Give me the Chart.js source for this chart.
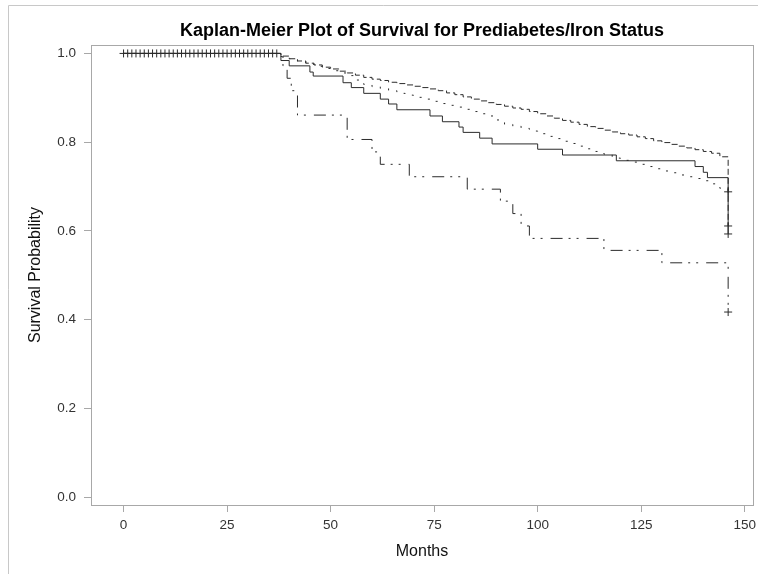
<!DOCTYPE html>
<html>
<head>
<meta charset="utf-8">
<script src="https://cdn.jsdelivr.net/npm/chart.js@4/dist/chart.umd.min.js"></script>
<style>
  html, body { margin: 0; padding: 0; background: #fff; }
</style>
</head>
<body>
<canvas id="km" width="758" height="574"></canvas>
<script>
const xTicks = [0, 25, 50, 75, 100, 125, 150];
const yTicks = [0, 0.2, 0.4, 0.6, 0.8, 1.0];

// group 1 (solid)
const solidTimes = [0, 38, 40, 45, 45.8, 53, 55, 58, 62, 64, 66, 74, 77, 81, 82, 86, 89, 100, 106, 119, 138, 140, 141, 146];
const solidSurv = [1, 0.984, 0.972, 0.958, 0.949, 0.934, 0.923, 0.910, 0.897, 0.886, 0.873, 0.859, 0.846, 0.834, 0.822, 0.809, 0.796, 0.784, 0.771, 0.758, 0.745, 0.732, 0.720, 0.593];

// group 2 (dashed)
const dashTimes = [0, 38, 40, 42, 44, 46, 48, 50, 52, 54, 56, 58, 60, 62, 64, 66, 68, 70, 72, 74, 76, 78, 80, 82, 84, 86, 88, 90,
  92, 94, 96, 98, 100, 102, 104, 106, 108, 110, 112, 114, 116, 118, 120, 122, 124, 126, 128, 130, 132, 134, 136, 138, 140, 142, 144, 146];
const dashSurv = [1, 0.994, 0.988, 0.983, 0.978, 0.974, 0.969, 0.965, 0.960, 0.956, 0.951, 0.946, 0.942, 0.939, 0.935, 0.932, 0.929, 0.926,
  0.923, 0.920, 0.916, 0.911, 0.907, 0.902, 0.897, 0.893, 0.889, 0.885, 0.881, 0.877, 0.874, 0.869, 0.864, 0.859, 0.854, 0.849, 0.845,
  0.840, 0.835, 0.831, 0.827, 0.823, 0.819, 0.816, 0.812, 0.808, 0.803, 0.799, 0.795, 0.791, 0.787, 0.783, 0.779, 0.775, 0.767, 0.611];

// group 3 (dotted)
const dotTimes = [0, 38, 40, 42, 44, 46, 48, 50, 52, 54, 56, 58, 60, 62, 64, 66, 68, 70, 72, 74, 76, 78, 80, 82, 84, 86, 88, 90,
  92, 94, 96, 98, 100, 102, 104, 106, 108, 110, 112, 114, 116, 118, 120, 122, 124, 126, 128, 130, 132, 134, 136, 138, 140, 142, 144, 146];
const dotSurv = [1, 0.993, 0.988, 0.982, 0.976, 0.971, 0.966, 0.961, 0.956, 0.950, 0.940, 0.930, 0.925, 0.921, 0.916, 0.910, 0.906, 0.901,
  0.897, 0.892, 0.887, 0.883, 0.879, 0.874, 0.869, 0.864, 0.859, 0.850, 0.840, 0.836, 0.831, 0.825, 0.819, 0.813, 0.808, 0.802, 0.797,
  0.791, 0.785, 0.779, 0.773, 0.764, 0.759, 0.755, 0.750, 0.745, 0.740, 0.735, 0.731, 0.726, 0.722, 0.718, 0.713, 0.706, 0.696, 0.688];

// group 4 (dash-dot)
const ddTimes = [0, 38.5, 39.5, 40.5, 42, 54, 60, 62, 69, 83, 91, 94, 96, 98, 116, 130, 146];
const ddSurv = [1, 0.972, 0.944, 0.916, 0.861, 0.806, 0.778, 0.750, 0.722, 0.694, 0.667, 0.639, 0.611, 0.583, 0.556, 0.528, 0.417];

// censored observations
const censorTopTimes = [0, 1, 2, 3, 4, 5, 6, 7, 8, 9, 10, 11, 12, 13, 14, 15, 16, 17, 18, 19, 20, 21, 22, 23, 24, 25, 26, 27, 28, 29,
  30, 31, 32, 33, 34, 35, 36, 37];
const censorEndTimes = [146, 146, 146, 146];
const censorEndSurv = [0.688, 0.611, 0.593, 0.417];

const ink = '#2b2b2b';
const frame = '#a8a8a8';
const family = "'Liberation Sans', Arial, sans-serif";

function pts(ts, vs) {
    return ts.map((t, i) => ({ x: t, y: vs[i] }));
}

function curve(ts, vs, dash) {
    return {
        data: pts(ts, vs),
        stepped: true,
        borderColor: ink,
        borderWidth: 1,
        borderDash: dash,
        pointRadius: 0,
        fill: false,
    };
}

const framePlugin = {
    id: 'framePlugin',
    afterDraw(chart) {
        const { ctx, chartArea: a } = chart;
        ctx.save();
        ctx.strokeStyle = frame;
        ctx.lineWidth = 1;
        ctx.strokeRect(Math.round(a.left) + 0.5, Math.round(a.top) + 0.5, Math.round(a.right - a.left), Math.round(a.bottom - a.top));
        ctx.strokeStyle = '#c8c8c8';
        ctx.beginPath();
        ctx.moveTo(8.5, 574);
        ctx.lineTo(8.5, 5.5);
        ctx.lineTo(758, 5.5);
        ctx.stroke();
        ctx.restore();
    },
};

new Chart(document.getElementById('km'), {
    type: 'line',
    data: {
        datasets: [
            curve(solidTimes, solidSurv, []),
            curve(dashTimes, dashSurv, [6, 3]),
            curve(dotTimes, dotSurv, [2, 8]),
            curve(ddTimes, ddSurv, [12, 6, 2, 6, 2, 8]),
            {
                data: censorTopTimes.map(t => ({ x: t, y: 1 })),
                showLine: false,
                pointStyle: 'cross',
                pointRadius: 4,
                borderColor: ink,
                borderWidth: 1,
            },
            {
                data: pts(censorEndTimes, censorEndSurv),
                showLine: false,
                pointStyle: 'cross',
                pointRadius: 4,
                borderColor: ink,
                borderWidth: 1,
            },
        ],
    },
    options: {
        responsive: false,
        animation: false,
        events: [],
        layout: { padding: { left: 0, right: 5, top: 0, bottom: 0 } },
        plugins: {
            legend: { display: false },
            tooltip: { enabled: false },
            title: {
                display: true,
                text: 'Kaplan-Meier Plot of Survival for Prediabetes/Iron Status',
                fullSize: false,
                color: '#000',
                font: { family, size: 18, weight: 'bold' },
                padding: { top: 20, bottom: 3.4 },
            },
        },
        scales: {
            x: {
                type: 'linear',
                min: -7.86,
                max: 152,
                afterBuildTicks: s => { s.ticks = xTicks.map(v => ({ value: v })); },
                afterFit: s => { s.height = 69; s.paddingLeft = 0; s.paddingRight = 0; },
                ticks: { color: '#333', font: { family, size: 13.5 }, padding: 5, maxRotation: 0, autoSkip: false },
                grid: { display: true, drawOnChartArea: false, tickLength: 7, color: frame },
                border: { display: true, color: frame },
                title: { display: true, text: 'Months', color: '#111', font: { family, size: 16 }, padding: { top: 0, bottom: 12.4 } },
            },
            y: {
                min: -0.018,
                max: 1.019,
                afterBuildTicks: s => { s.ticks = yTicks.map(v => ({ value: v })); },
                afterFit: s => { s.width = 91; },
                ticks: { color: '#333', font: { family, size: 13.5 }, padding: 8, callback: v => v.toFixed(1) },
                grid: { display: true, drawOnChartArea: false, tickLength: 7, color: frame },
                border: { display: true, color: frame },
                title: { display: true, text: 'Survival Probability', color: '#111', font: { family, size: 16 }, padding: { top: 25.5, bottom: 0 } },
            },
        },
    },
    plugins: [framePlugin],
});
</script>
</body>
</html>
